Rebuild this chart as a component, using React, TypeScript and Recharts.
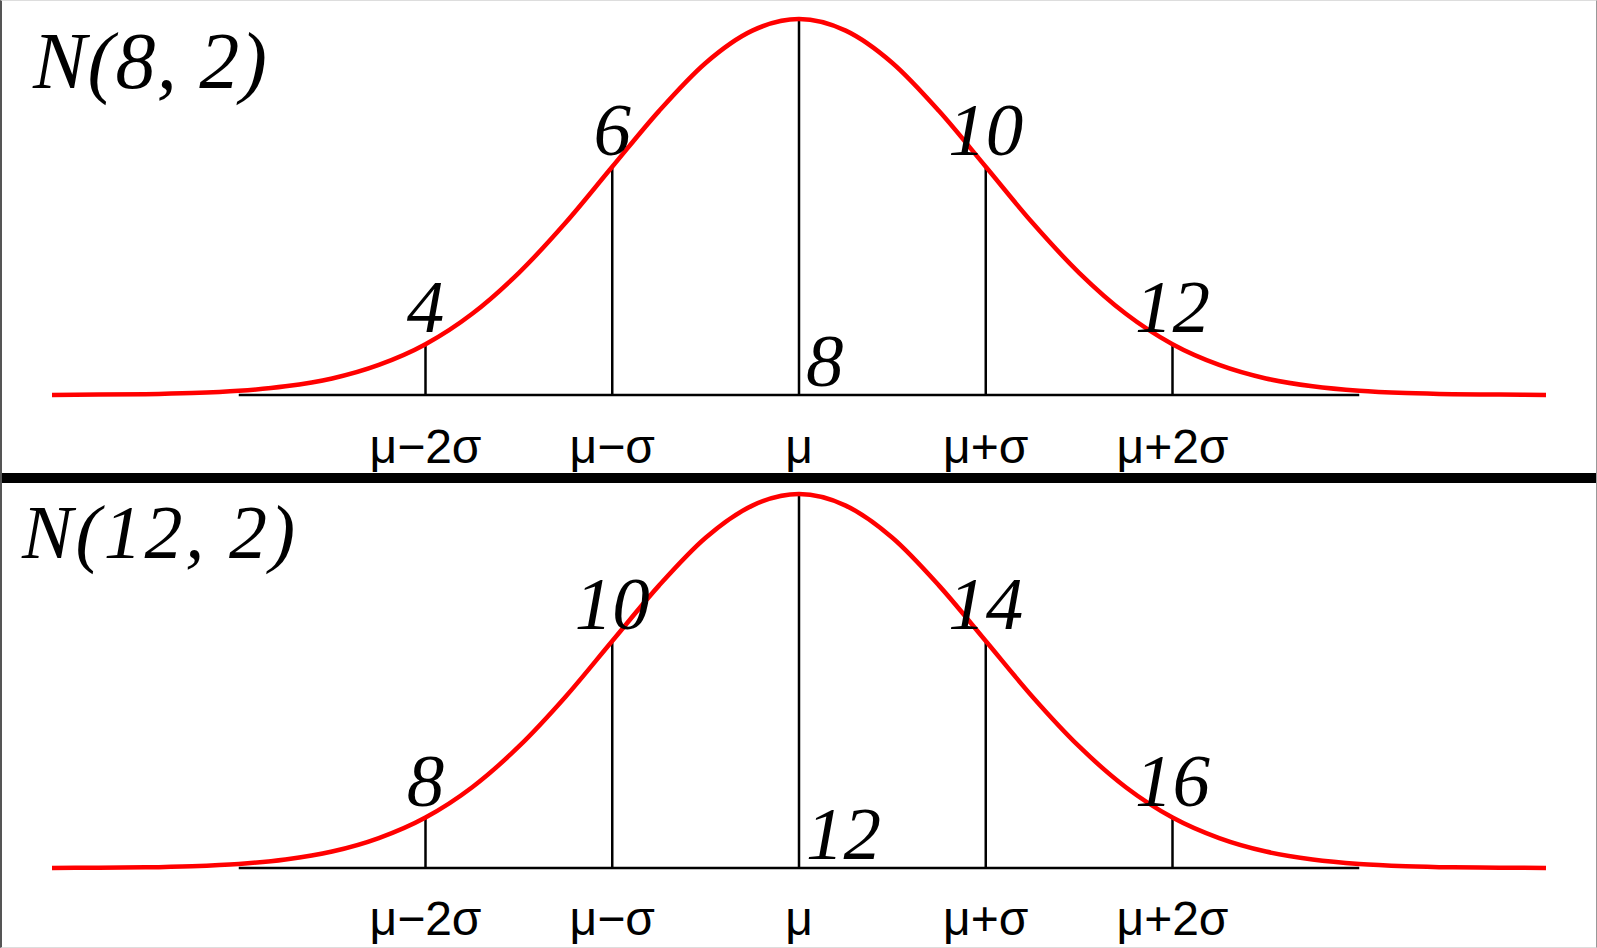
import React from "react";
import {
  ComposedChart,
  Line,
  Scatter,
  XAxis,
  YAxis,
  ReferenceLine,
} from "recharts";

// x positions of the curve points (every quarter sigma, sigma = 2)
const topX = [0, 0.5, 1, 1.5, 2, 2.5, 3, 3.5, 4, 4.5, 5, 5.5, 6, 6.5, 7, 7.5, 8, 8.5, 9, 9.5, 10, 10.5, 11, 11.5, 12, 12.5, 13, 13.5, 14, 14.5, 15, 15.5, 16];
const bottomX = [4, 4.5, 5, 5.5, 6, 6.5, 7, 7.5, 8, 8.5, 9, 9.5, 10, 10.5, 11, 11.5, 12, 12.5, 13, 13.5, 14, 14.5, 15, 15.5, 16, 16.5, 17, 17.5, 18, 18.5, 19, 19.5, 20];

// curve height relative to the peak
const topCurve = [0, 0.001, 0.002, 0.005, 0.011, 0.023, 0.044, 0.08, 0.135, 0.216, 0.325, 0.458, 0.607, 0.755, 0.883, 0.969, 1, 0.969, 0.883, 0.755, 0.607, 0.458, 0.325, 0.216, 0.135, 0.08, 0.044, 0.023, 0.011, 0.005, 0.002, 0.001, 0];
const bottomCurve = [0, 0.001, 0.002, 0.005, 0.011, 0.023, 0.044, 0.08, 0.135, 0.216, 0.325, 0.458, 0.607, 0.755, 0.883, 0.969, 1, 0.969, 0.883, 0.755, 0.607, 0.458, 0.325, 0.216, 0.135, 0.08, 0.044, 0.023, 0.011, 0.005, 0.002, 0.001, 0];

const topTicks = [4, 6, 8, 10, 12];
const bottomTicks = [8, 10, 12, 14, 16];
const sigmaLabels = ["μ−2σ", "μ−σ", "μ", "μ+σ", "μ+2σ"];

const topAxisRange = [2, 14];
const bottomAxisRange = [6, 18];

const topTitle = "N(8, 2)";
const bottomTitle = "N(12, 2)";

const W = 1597;

function NumberLabel(props: any) {
  const { cx, cy, payload } = props;
  if (cx == null || cy == null) return null;
  const mean = payload?.mean;
  return (
    <text
      x={cx + (mean ? 7 : 0)}
      y={cy - (mean ? 9 : 12)}
      textAnchor={mean ? "start" : "middle"}
      fontFamily="Liberation Serif"
      fontStyle="italic"
      fontSize={75}
      fill="#000"
    >
      {payload.text}
    </text>
  );
}

function Panel({
  xs,
  ys,
  ticks,
  axisRange,
  height,
  margin,
  labelGap,
}: {
  xs: number[];
  ys: number[];
  ticks: number[];
  axisRange: number[];
  height: number;
  margin: { top: number; right: number; bottom: number; left: number };
  labelGap: number;
}) {
  const curve = xs.map((x, i) => ({ x, y: ys[i] }));
  const marks = ticks.map((t, i) => ({
    x: t,
    y: i === 2 ? 0 : ys[xs.indexOf(t)],
    h: ys[xs.indexOf(t)],
    text: String(t),
    mean: i === 2,
  }));

  return (
    <ComposedChart width={W} height={height} margin={margin}>
      <XAxis
        dataKey="x"
        type="number"
        domain={[xs[0], xs[xs.length - 1]]}
        ticks={ticks}
        interval={0}
        tickFormatter={(v) => sigmaLabels[ticks.indexOf(v)]}
        axisLine={false}
        tickLine={false}
        tickSize={0}
        tickMargin={labelGap}
        height={40}
        tick={{ fontFamily: "Liberation Sans", fontSize: 48, fill: "#000" }}
      />
      <YAxis hide type="number" domain={[0, 1]} />
      <ReferenceLine
        segment={[
          { x: axisRange[0], y: 0 },
          { x: axisRange[1], y: 0 },
        ]}
        stroke="#000"
        strokeWidth={2.5}
      />
      {marks.map((m) => (
        <ReferenceLine
          key={m.x}
          segment={[
            { x: m.x, y: 0 },
            { x: m.x, y: m.h },
          ]}
          stroke="#000"
          strokeWidth={2.5}
        />
      ))}
      <Line
        data={curve}
        dataKey="y"
        type="monotone"
        stroke="#ff0000"
        strokeWidth={4.5}
        dot={false}
        activeDot={false}
        isAnimationActive={false}
      />
      <Scatter
        data={marks}
        dataKey="y"
        shape={(p: any) => <NumberLabel {...p} />}
        isAnimationActive={false}
      />
    </ComposedChart>
  );
}

export default function App() {
  return (
    <div
      style={{
        position: "absolute",
        left: 0,
        top: 0,
        width: W,
        height: 948,
        background: "#fff",
        overflow: "hidden",
      }}
    >
      <div style={{ position: "absolute", left: 0, top: 0 }}>
        <Panel
          xs={topX}
          ys={topCurve}
          ticks={topTicks}
          axisRange={topAxisRange}
          height={483}
          margin={{ top: 19, right: 51, bottom: 48, left: 52 }}
          labelGap={34}
        />
      </div>
      <div style={{ position: "absolute", left: 0, top: 483 }}>
        <Panel
          xs={bottomX}
          ys={bottomCurve}
          ticks={bottomTicks}
          axisRange={bottomAxisRange}
          height={465}
          margin={{ top: 11, right: 51, bottom: 40, left: 52 }}
          labelGap={33}
        />
      </div>

      {/* divider */}
      <div
        style={{
          position: "absolute",
          left: 0,
          top: 473,
          width: W,
          height: 10,
          background: "#000",
        }}
      />

      {/* titles */}
      <svg
        width={W}
        height={948}
        style={{ position: "absolute", left: 0, top: 0, pointerEvents: "none" }}
      >
        <text
          x={33}
          y={88}
          fontFamily="Liberation Serif"
          fontStyle="italic"
          fontSize={80}
          textLength={234}
          lengthAdjust="spacing"
        >
          {topTitle}
        </text>
        <text
          x={22}
          y={558}
          fontFamily="Liberation Serif"
          fontStyle="italic"
          fontSize={76}
          textLength={273}
          lengthAdjust="spacing"
        >
          {bottomTitle}
        </text>
      </svg>

      {/* frame */}
      <div
        style={{
          position: "absolute",
          left: 0,
          top: 0,
          width: W,
          height: 948,
          boxSizing: "border-box",
          borderLeft: "2px solid #555",
          borderTop: "1px solid #ddd",
          borderRight: "1px solid #999",
          borderBottom: "1px solid #ddd",
          pointerEvents: "none",
        }}
      />
    </div>
  );
}
